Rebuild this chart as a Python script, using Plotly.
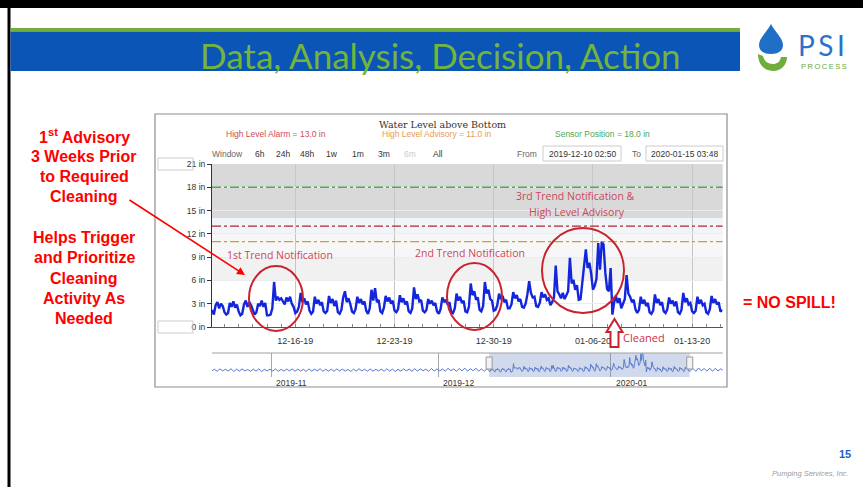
import pandas as pd
import plotly.graph_objects as go

W, H = 863, 487

# water level above bottom (in), one reading every 3 h from 2019-12-10 03:00
level_start = "2019-12-10 03:00"
level_in = [
    2.2, 1.6, 2.8, 3.2, 2.4, 3.0, 2.7, 1.9,
    1.6, 1.8, 3.1, 2.6, 3.3, 2.5, 2.9, 2.0,
    1.5, 1.7, 2.9, 3.4, 2.6, 3.2, 2.8, 2.1,
    1.6, 1.9, 3.0, 2.7, 3.4, 2.6, 3.1, 1.5,
    1.5, 1.6, 2.4, 5.8, 3.4, 3.9, 3.5, 3.7,
    3.2, 2.9, 3.8, 3.3, 3.9, 3.0, 2.6, 1.8,
    2.0, 2.6, 4.4, 3.2, 3.7, 2.9, 3.3, 2.1,
    1.7, 2.0, 3.9, 3.0, 3.5, 2.8, 3.2, 2.0,
    1.8, 2.1, 4.0, 3.1, 3.6, 2.7, 3.4, 1.9,
    1.7, 2.2, 3.8, 4.6, 3.2, 3.7, 3.0, 2.0,
    1.8, 2.3, 3.9, 3.1, 3.6, 2.9, 3.3, 2.1,
    1.7, 2.4, 4.8, 3.4, 5.0, 3.2, 3.5, 2.0,
    1.8, 2.5, 4.0, 3.3, 3.8, 3.0, 3.4, 2.1,
    1.9, 2.3, 4.1, 3.2, 3.7, 2.9, 3.3, 2.0,
    1.8, 2.4, 5.1, 3.6, 4.2, 3.3, 3.5, 2.1,
    1.9, 2.2, 3.6, 3.0, 3.4, 2.8, 3.1, 2.0,
    1.7, 2.3, 3.8, 3.2, 3.5, 2.9, 3.2, 1.9,
    1.8, 2.4, 4.3, 3.4, 3.9, 3.1, 3.4, 2.0,
    1.9, 2.6, 5.6, 4.1, 4.6, 3.5, 3.8, 2.2,
    2.0, 2.7, 5.8, 4.3, 4.8, 3.6, 3.4, 2.1,
    2.2, 2.8, 4.3, 3.6, 4.0, 3.2, 3.5, 2.4,
    2.4, 2.9, 4.5, 3.7, 4.1, 3.3, 3.6, 2.6,
    2.5, 3.0, 4.2, 5.9, 4.4, 3.8, 3.9, 2.7,
    2.6, 3.1, 4.5, 3.8, 4.2, 3.5, 3.7, 2.8,
    3.2, 3.8, 7.9, 4.6, 4.2, 3.7, 4.4, 3.6,
    4.1, 4.6, 8.9, 5.6, 6.1, 4.8, 5.4, 3.5,
    3.6, 5.8, 7.4, 10.0, 7.6, 8.3, 6.9, 4.8,
    5.3, 6.2, 10.8, 7.4, 11.0, 10.6, 7.0, 4.9,
    4.6, 7.6, 1.6, 3.2, 4.0, 3.1, 3.7, 2.4,
    3.0, 3.6, 6.7, 4.3, 3.9, 3.2, 3.5, 2.3,
    1.8, 2.2, 3.9, 3.0, 3.5, 2.7, 3.1, 1.9,
    1.7, 2.1, 4.2, 3.1, 3.6, 2.8, 3.2, 2.0,
    1.8, 2.3, 3.8, 3.0, 3.4, 2.7, 3.3, 1.9,
    1.7, 2.2, 4.4, 3.2, 3.7, 2.9, 3.1, 2.0,
    1.8, 2.1, 3.9, 3.0, 3.5, 2.8, 3.0, 1.9,
    1.7, 2.3, 4.0, 3.1, 3.6, 2.9, 3.2, 2.0,
    2.2,
]

# navigator history before / after the window, every 12 h
nav_pre_start = "2019-10-21 06:00"
nav_pre_in = [
    2.0, 3.0, 1.9, 3.1, 2.1, 2.9, 2.0, 3.2, 1.8, 3.0, 2.0, 3.1, 2.1, 2.8,
    1.9, 3.0, 2.0, 3.2, 1.8, 2.9, 2.1, 3.0, 2.0, 3.1, 1.9, 2.9, 2.0, 3.0,
    2.1, 3.1, 1.9, 3.0, 2.0, 2.9, 1.8, 3.1, 2.0, 3.0, 2.1, 3.2, 1.9, 2.9,
    2.0, 3.0, 1.9, 3.1, 2.1, 3.0, 2.0, 2.9, 1.8, 3.0, 2.0, 3.2, 2.1, 3.0,
    1.9, 3.1, 2.0, 2.9, 2.1, 3.0, 1.9, 3.2, 2.0, 3.0, 1.8, 2.9, 2.0, 3.1,
    2.1, 3.0, 1.9, 3.2, 2.0, 3.1, 2.2, 3.0, 1.9, 3.3, 2.0, 3.1, 2.1, 3.0,
    2.0, 3.4, 2.2, 3.1, 1.9, 3.3, 2.1, 3.5, 2.0, 3.2, 2.2, 3.4, 2.0, 3.1,
    1.9, 3.2,
]
nav_post_start = "2020-01-15 06:00"
nav_post_in = [2.0, 3.4, 1.9, 3.6, 2.1, 3.3, 2.0, 3.5, 1.9, 3.4, 2.1, 3.2, 2.0, 3.3]

window_from = "2019-12-10 02:50"
window_to = "2020-01-15 03:48"
nav_from = "2019-10-21 08:00"
nav_to = "2020-01-21 02:00"

y_ticks = [0, 3, 6, 9, 12, 15, 18, 21]
week_ticks = ["2019-12-16", "2019-12-23", "2019-12-30", "2020-01-06", "2020-01-13"]
month_ticks = ["2019-11-01", "2019-12-01", "2020-01-01"]
month_labels = ["2019-11", "2019-12", "2020-01"]

alarm_in = 13.0
advisory_in = 11.0
sensor_in = 18.0
dead_band = (14, 21)

buttons = ["6h", "24h", "48h", "1w", "1m", "3m", "6m", "All"]

t_main = pd.date_range(level_start, periods=len(level_in), freq="3h")
t_pre = pd.date_range(nav_pre_start, periods=len(nav_pre_in), freq="12h")
t_post = pd.date_range(nav_post_start, periods=len(nav_post_in), freq="12h")
t_nav = list(t_pre) + list(t_main) + list(t_post)
v_nav = nav_pre_in + level_in + nav_post_in


def px(x):
    return x / W


def py(y):
    return 1 - y / H


def path(cmds):
    out = []
    for c in cmds:
        op, nums = c[0], c[1:]
        pts = []
        for i in range(0, len(nums), 2):
            pts.append(f"{px(nums[i]):.5f},{py(nums[i + 1]):.5f}")
        out.append(op + " " + " ".join(pts))
    return " ".join(out)


fig = go.Figure()


def label(x, y, s, size, color, family="Liberation Sans", xanchor="center"):
    # pixel-positioned slide text, always anchored explicitly
    fig.add_annotation(x=px(x), y=py(y), xref="paper", yref="paper", text=s,
                       showarrow=False, xanchor=xanchor, yanchor="middle",
                       font=dict(family=family, size=size, color=color))


fig.add_trace(go.Scatter(x=t_main, y=level_in, mode="lines",
                         line=dict(color="#1326dc", width=2.4),
                         xaxis="x", yaxis="y", showlegend=False))
fig.add_trace(go.Scatter(x=t_nav, y=v_nav, mode="lines",
                         line=dict(color="#5577cf", width=1),
                         xaxis="x2", yaxis="y2", showlegend=False))

axis_font = dict(family="Liberation Sans", size=9, color="#333333")

fig.update_layout(
    width=W, height=H,
    margin=dict(l=0, r=0, t=0, b=0),
    paper_bgcolor="white", plot_bgcolor="white",
    showlegend=False,
    xaxis=dict(domain=[px(212), px(722.7)], anchor="y", type="date",
               range=[window_from, window_to],
               tickvals=week_ticks, tickformat="%m-%d-%y",
               showgrid=True, gridcolor="#c6c6c6", gridwidth=1,
               ticks="", showline=True, linecolor="#555555", linewidth=1,
               tickfont=axis_font, ticklabelstandoff=5, automargin=False,
               minor=dict(dtick=86400000, tick0="2019-12-10", ticks="inside",
                          ticklen=3, tickcolor="#888888", showgrid=False),
               zeroline=False),
    yaxis=dict(domain=[py(327), py(164)], anchor="x",
               range=[0, 21], tickvals=y_ticks,
               ticktext=[f"{v} in" for v in y_ticks],
               showgrid=True, gridcolor="#ececec",
               ticks="outside", ticklen=4, tickcolor="#333333",
               showline=True, linecolor="#333333", linewidth=1,
               tickfont=dict(family="Liberation Sans", size=8.5, color="#333333"),
               zeroline=False, automargin=False),
    xaxis2=dict(domain=[px(212), px(722.7)], anchor="y2", type="date",
                range=[nav_from, nav_to], tickvals=month_ticks,
                showticklabels=False, showgrid=True, gridcolor="#a8a8a8",
                ticks="", showline=False, zeroline=False, automargin=False),
    yaxis2=dict(domain=[py(377), py(353)], anchor="x2",
                range=[-1, 11.2], showticklabels=False, showgrid=False,
                zeroline=False, showline=False, automargin=False),
)

# ---------- slide frame ----------
fig.add_shape(type="rect", xref="paper", yref="paper",
              x0=0, x1=1, y0=py(8), y1=1, fillcolor="black", line_width=0)
fig.add_shape(type="rect", xref="paper", yref="paper",
              x0=px(7.5), x1=px(10.5), y0=0, y1=1, fillcolor="black", line_width=0)
fig.add_shape(type="rect", xref="paper", yref="paper",
              x0=px(10.5), x1=px(740), y0=py(31.5), y1=py(28),
              fillcolor="#72ad3f", line_width=0)
fig.add_shape(type="rect", xref="paper", yref="paper",
              x0=px(10.5), x1=px(740), y0=py(71), y1=py(31.5),
              fillcolor="#0a55b5", line_width=0)
label(440, 55, "Data, Analysis, Decision, Action", 35, "#74b43c", family="Lato")

# logo
fig.add_shape(type="path", xref="paper", yref="paper",
              path=path([("M", 771, 24), ("C", 767, 32, 759, 38, 759, 45),
                         ("C", 759, 51, 764, 54, 771, 54), ("C", 778, 54, 783, 51, 783, 45),
                         ("C", 783, 38, 775, 32, 771, 24), ("Z",)]),
              fillcolor="#1f6fc6", line_width=0)
fig.add_shape(type="path", xref="paper", yref="paper",
              path=path([("M", 758, 54), ("C", 758, 65, 765, 71, 773, 71),
                         ("C", 781, 71, 787, 65, 787, 57), ("L", 781, 57),
                         ("C", 780, 62, 777, 64, 773, 64), ("C", 768, 64, 764, 61, 763, 56),
                         ("Z",)]),
              fillcolor="#6fae3c", line_width=0)
label(821, 45, "P\u2009S\u2009I", 28, "#2a72c9", family="Lato")
label(824, 66, "P\u2009R\u2009O\u2009C\u2009E\u2009S\u2009S", 7.5, "#6aa83c")

# ---------- chart box ----------
fig.add_shape(type="rect", xref="paper", yref="paper", layer="below",
              x0=px(155), x1=px(727), y0=py(387), y1=py(114),
              line=dict(color="#8e8e8e", width=1.2), fillcolor="white")

label(442, 124, "Water Level above Bottom", 9.5, "#333333", family="DejaVu Serif")
for txt, cx, col in [(f"High Level Alarm = {alarm_in:.1f} in", 276, "#cf4a5a"),
                     (f"High Level Advisory = {advisory_in:.1f} in", 436, "#e89a5c"),
                     (f"Sensor Position = {sensor_in:.1f} in", 602, "#4fa551")]:
    label(cx, 134, txt, 8.5, col)

# range selector row
label(228, 153.5, "Window", 8.5, "#666666")
for b, bx in zip(buttons, [260, 283, 307, 332, 358, 384, 410, 438]):
    label(bx, 153.5, b, 8.5, "#cccccc" if b == "6m" else "#333333")
label(539, 153.5, "From", 8.5, "#666666", xanchor="right")
label(643, 153.5, "To", 8.5, "#666666", xanchor="right")
for x0, x1, txt in [(543, 621, window_from), (646, 723, window_to)]:
    fig.add_shape(type="rect", xref="paper", yref="paper",
                  x0=px(x0), x1=px(x1), y0=py(161), y1=py(146),
                  line=dict(color="#cccccc", width=1), fillcolor="white", layer="below")
    label((x0 + x1) / 2, 153.5, txt, 8.5, "#333333")

# y-range input boxes
for yc in (164, 327):
    fig.add_shape(type="rect", xref="paper", yref="paper",
                  x0=px(158), x1=px(193), y0=py(yc + 6), y1=py(yc - 6),
                  line=dict(color="#cccccc", width=1), fillcolor="rgba(0,0,0,0)")

# plot bands
fig.add_shape(type="rect", xref="x domain", yref="y", layer="below",
              x0=0, x1=1, y0=dead_band[0], y1=dead_band[1],
              fillcolor="#d9d9d9", line_width=0)
for y0, y1, c in [(12, 14, "#f1f4f8"), (9, 12, "#f7f7f7"), (6, 9, "#f1f1f1")]:
    fig.add_shape(type="rect", xref="x domain", yref="y", layer="below",
                  x0=0, x1=1, y0=y0, y1=y1, fillcolor=c, line_width=0)

# threshold lines
for yv, col in [(sensor_in, "#49b04a"), (alarm_in, "#b0282d"), (advisory_in, "#d99a2b")]:
    fig.add_shape(type="line", xref="x domain", yref="y", x0=0, x1=1, y0=yv, y1=yv,
                  line=dict(color=col, width=1.4, dash="dashdot"))

# navigator selection
fig.add_shape(type="rect", xref="x2", yref="y2 domain",
              x0=window_from, x1=window_to, y0=0, y1=1,
              fillcolor="rgba(102,133,194,0.3)", line_width=0)
fig.add_shape(type="line", xref="x2 domain", yref="y2 domain",
              x0=0, x1=1, y0=1, y1=1, line=dict(color="#a0a0a0", width=1))
for xd in (window_from, window_to):
    ts = pd.Timestamp(xd)
    fig.add_shape(type="rect", xref="x2", yref="paper",
                  x0=ts - pd.Timedelta(hours=13), x1=ts + pd.Timedelta(hours=13),
                  y0=py(369), y1=py(357),
                  fillcolor="#f2f2f2", line=dict(color="#999999", width=1))
for d, lab in zip(month_ticks, month_labels):
    fig.add_annotation(x=pd.Timestamp(d) + pd.Timedelta(hours=12), y=py(383),
                       xref="x2", yref="paper", text=lab, xanchor="left",
                       yanchor="middle", showarrow=False,
                       font=dict(family="Liberation Sans", size=8.5, color="#333333"))

# ---------- markup ----------
red_ring = dict(color="#c8222f", width=2)
for x0, x1, y0, y1 in [(249, 303, 266, 331), (447, 502, 263, 330), (542, 624, 228, 313)]:
    fig.add_shape(type="circle", xref="paper", yref="paper",
                  x0=px(x0), x1=px(x1), y0=py(y1), y1=py(y0), line=red_ring)

for txt, cx, cy in [("1st Trend Notification", 280, 255),
                    ("2nd Trend Notification", 470, 253),
                    ("3rd Trend Notification &", 575, 196),
                    ("High Level Advisory", 577, 212)]:
    label(cx, cy, txt, 10.5, "#c9475a", family="Open Sans")

fig.add_shape(type="path", xref="paper", yref="paper",
              path=path([("M", 614.5, 319), ("L", 622.5, 332), ("L", 618.5, 332),
                         ("L", 618.5, 347), ("L", 610.5, 347), ("L", 610.5, 332),
                         ("L", 606.5, 332), ("Z",)]),
              fillcolor="white", line=dict(color="#c8222f", width=2))
label(621, 337, "Cleaned", 11, "#d0303f", family="Open Sans", xanchor="left")

# left call-out text
left_lines = [("1<sup>st</sup> Advisory", 136), ("3 Weeks Prior", 156.5),
              ("to Required", 176.5), ("Cleaning", 196.5),
              ("Helps Trigger", 237.5), ("and Prioritize", 257.5),
              ("Cleaning", 278), ("Activity As", 298), ("Needed", 318)]
for txt, cy in left_lines:
    label(84, cy, f"<b>{txt}</b>", 16, "#ff0000")
fig.add_annotation(x=px(245), y=py(275), xref="paper", yref="paper", text="",
                   showarrow=True, arrowhead=2, arrowsize=1, arrowwidth=1.6,
                   arrowcolor="#ff0000", ax=-117, ay=-76, standoff=0)

label(741, 302, "<b>= NO SPILL!</b>", 16, "#ff0000", xanchor="left")
label(853, 454, "<b>15</b>", 11, "#1f5fbf", xanchor="right")
label(851, 473, "<i>Pumping Services, Inc.</i>", 7.5, "#9a9a9a", xanchor="right")

fig.write_html("out.html", config={"displayModeBar": False},
               post_script="document.body.style.margin='0';")
